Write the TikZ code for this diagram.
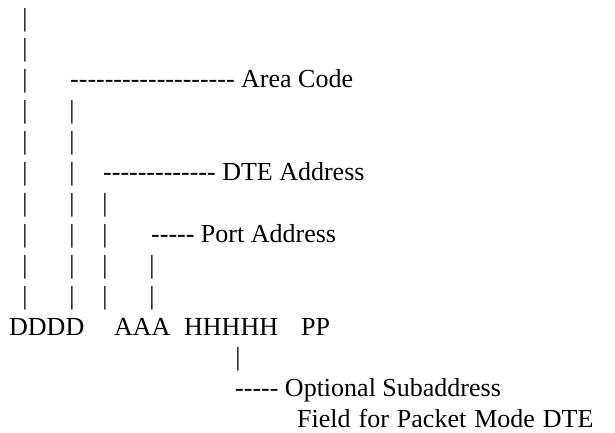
\documentclass[tikz,border=0pt]{standalone}
\usepackage{fontspec}
\setmainfont{Liberation Serif}[Ligatures=TeXOff]
\begin{document}
\begin{tikzpicture}[x=1pt,y=-1pt,
    every node/.style={inner sep=0pt,font=\fontsize{26}{31}\selectfont},
    bar/.style={anchor=base},
    lbl/.style={anchor=base west}]
    \useasboundingbox (0,0) rectangle (615,432);

    \foreach \col/\first in {25/1,72/4,105/7,152/9}
        \foreach \r in {\first,...,10}
            \node[bar] (bar\col-\r) at (\col,{335-(11-\r)*30.9}) {|};

    \node[lbl] (area) at (70,87.8) {------------------- Area Code};
    \node[lbl] (dte) at (103,180.5) {------------- DTE Address};
    \node[lbl] (port) at (151,242.3) {----- Port Address};

    \node[lbl] (dddd) at (9,335) {DDDD};
    \node[lbl] (aaa) at (114,335) {AAA};
    \node[lbl] (hhhhh) at (184,335) {HHHHH};
    \node[lbl] (pp) at (301,335) {PP};

    \node[bar] (barsub) at (238,365.9) {|};
    \node[lbl] (opt) at (235,396.8) {----- Optional Subaddress};
    \node[lbl] (field) at (297,427.7) {\spaceskip=8pt Field for Packet Mode DTE};

\end{tikzpicture}
\end{document}
